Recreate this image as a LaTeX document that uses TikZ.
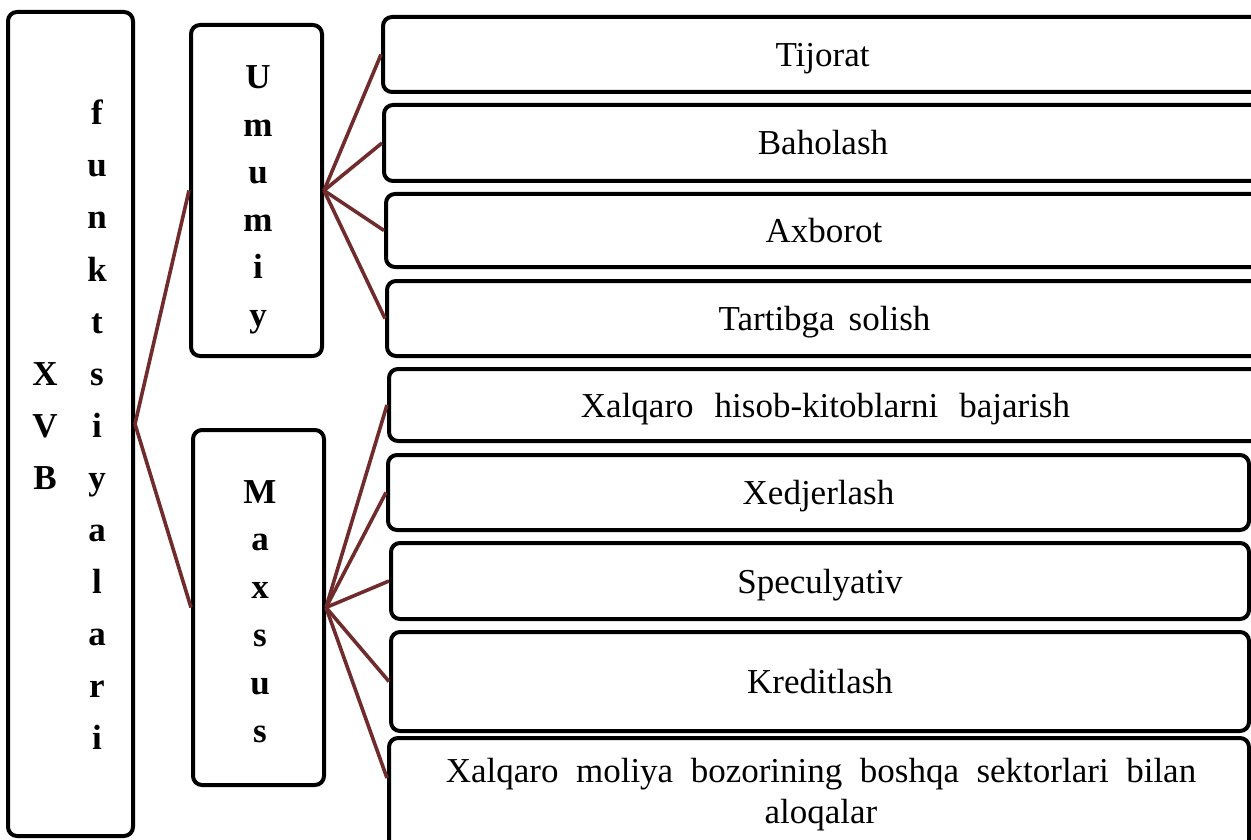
\documentclass[tikz,border=0pt]{standalone}
\usepackage{fontspec}
\setmainfont{Liberation Serif}
\usetikzlibrary{calc}
\definecolor{linkred}{RGB}{112,44,44}
% interword space used inside a box label
\newcommand\wordgap[1]{\spaceskip=#1\relax}
\begin{document}
\begin{tikzpicture}[x=1pt,y=-1pt,
  frame/.style={draw=black, line width=4pt, rounded corners=9pt, fill=white, inner sep=0pt},
  item/.style={frame, text height=24pt, text depth=0pt, align=center,
    font={\fontsize{35}{35}\selectfont\wordgap{0.5em}}},
  letter/.style={anchor=base, inner sep=0pt, font={\fontsize{35}{35}\selectfont\bfseries}},
  link/.style={draw=linkred, line width=3.6pt}]
\useasboundingbox (0,0) rectangle (1251,840);
\clip (0,0) rectangle (1251,840);

% main vertical boxes
\node[frame, minimum width=125pt, minimum height=824pt] (xvb) at (70.5,424) {};
\node[frame, minimum width=131pt, minimum height=331pt] (umumiy) at (256.5,190.5) {};
\node[frame, minimum width=131pt, minimum height=355pt] (maxsus) at (258.5,607.5) {};

% vertical lettering
\foreach \ch [count=\i] in {X,V,B}
  \node[letter] (xvb\i) at (45,{385+52*(\i-1)}) {\ch};
\foreach \ch [count=\i] in {f,u,n,k,t,s,i,y,a,l,a,r,i}
  \node[letter] (fk\i) at (97,{125+52*(\i-1)}) {\ch};
\foreach \ch [count=\i] in {U,m,u,m,i,y}
  \node[letter] (um\i) at (258,{89+47.4*(\i-1)}) {\ch};
\foreach \ch [count=\i] in {M,a,x,s,u,s}
  \node[letter] (mx\i) at (260,{503+47.8*(\i-1)}) {\ch};

% general functions
\node[item, minimum width=879pt, minimum height=75pt] (b1) at (822.5,54.5) {Tijorat};
\node[item, minimum width=878pt, minimum height=76pt] (b2) at (823,143) {Baholash};
\node[item, minimum width=876pt, minimum height=73pt] (b3) at (824,230.5) {Axborot};
\node[item, minimum width=875pt, minimum height=75pt,
  font={\fontsize{35}{35}\selectfont\wordgap{0.4em}}] (b4) at (824.5,318.5) {Tartibga solish};

% special functions
\node[item, minimum width=873pt, minimum height=72pt,
  font={\fontsize{35}{35}\selectfont\wordgap{0.6em}}] (b5) at (825.5,405) {Xalqaro hisob-kitoblarni bajarish};
\node[item, minimum width=861pt, minimum height=75pt] (b6) at (818.5,492.5) {Xedjerlash};
\node[item, minimum width=858pt, minimum height=76pt] (b7) at (820,581) {Speculyativ};
\node[item, minimum width=858pt, minimum height=99pt] (b8) at (820,681.5) {Kreditlash};
\node[frame, minimum width=860pt, minimum height=112pt] (b9) at (819,794) {};
\node[anchor=north, inner sep=0pt, align=center,
  font={\fontsize{35}{38}\selectfont\wordgap{0.5em}}] (b9t) at (821,758)
  {Xalqaro moliya bozorining boshqa sektorlari bilan\\[3pt]aloqalar};

% connectors
\draw[link] (xvb.east) -- (umumiy.west);
\draw[link] (xvb.east) -- (maxsus.west);
\foreach \b in {b1,b2,b3,b4}
  \draw[link] (umumiy.east) -- (\b.west);
\foreach \b in {b5,b6,b7,b8}
  \draw[link] (maxsus.east) -- (\b.west);
\coordinate (b9in) at ($(b9.north west)+(0,42)$);
\draw[link] (maxsus.east) -- (b9in);
\end{tikzpicture}
\end{document}
